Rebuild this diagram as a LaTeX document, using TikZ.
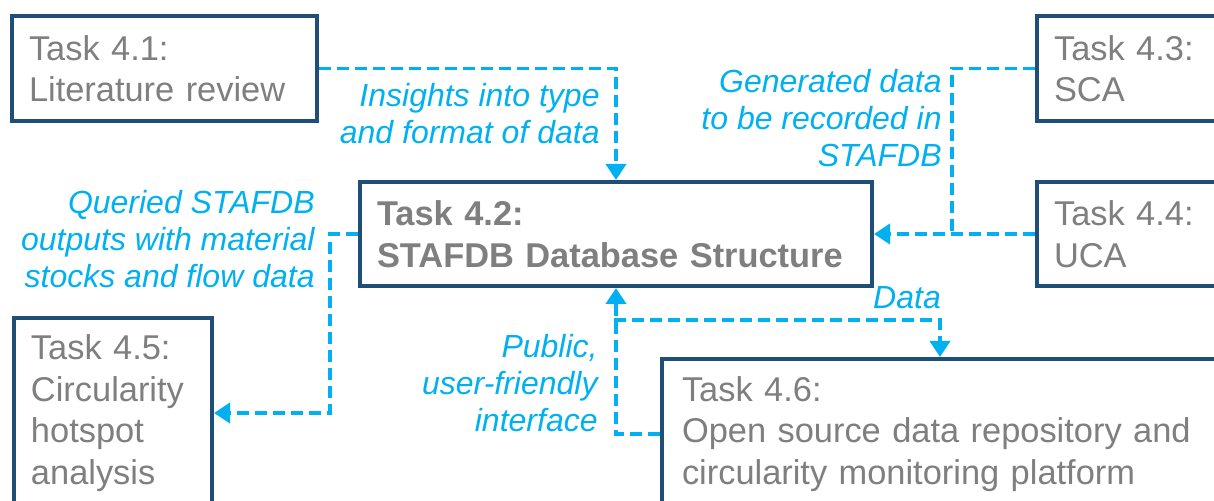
\documentclass[tikz,border=0pt]{standalone}
\usepackage{fontspec}
\setmainfont{Liberation Sans}
\usetikzlibrary{arrows.meta}
\definecolor{taskblue}{HTML}{1F4E79}
\definecolor{taskgray}{HTML}{7F7F7F}
\definecolor{flowcyan}{HTML}{00B0F0}

\begin{document}
\begin{tikzpicture}[x=0.5pt,y=-0.5pt,
    task/.style={draw=taskblue, line width=2pt, fill=white, anchor=north west, align=left,
      text=taskgray, inner xsep=8.5pt, inner ysep=0pt, font=\fontsize{17.2}{20.75}\selectfont},
    flow/.style={draw=flowcyan, line width=1.8pt, dash pattern=on 6pt off 3pt,
      -{Triangle[width=10pt,length=8pt]}},
    note/.style={text=flowcyan, inner sep=0pt, align=right, anchor=east,
      font=\fontsize{16}{18.5}\selectfont\itshape}]
      \useasboundingbox (0,0) rectangle (1214,501);
      \clip (0,0) rectangle (1214,501);
      %tasks
      \node[task, minimum width=152.5pt, minimum height=52.5pt, text width=135.5pt] (t41) at (10,14) {Task 4.1:\\Literature review};
      \node[task, minimum width=256pt, minimum height=52pt, text width=239pt] (t42) at (358,180) {\bfseries Task 4.2:\\\bfseries STAFDB Database Structure};
      \node[task, minimum width=120pt, minimum height=52.5pt, text width=103pt] (t43) at (1035,14) {Task 4.3:\\SCA};
      \node[task, minimum width=120pt, minimum height=52pt, text width=103pt] (t44) at (1035,180) {Task 4.4:\\UCA};
      \node[task, minimum width=99pt, minimum height=95pt, text width=82pt] (t45) at (12,316) {Task 4.5:\\Circularity\\hotspot\\analysis};
      \node[task, minimum width=300pt, minimum height=75pt, text width=280pt, inner xsep=10pt] (t46) at (660,357) {Task 4.6:\\Open source data repository and\\circularity monitoring platform};
      %points
      \coordinate (j1) at (952,232);
      \coordinate (j2) at (330,0);
      \coordinate (j3) at (614,320);
      \coordinate (j4) at (940,357);
      %flows
      \draw[flow] (t41.east) -| (t42.north);
      \draw[flow,-] (t43.west) -| (j1);
      \draw[flow] (t44.west) -- (t42.east);
      \draw[flow] (t42.west) -| (t45.east -| j2) -- (t45.east);
      \draw[flow] (t46.west) -| (t42.south);
      \draw[flow] (j3) -| (j4);
      %labels
      \node[note] (l1) at (600,114) {Insights into type\\and format of data};
      \node[note] (l2) at (942,118) {Generated data\\to be recorded in\\STAFDB};
      \node[note] (l3) at (315,239) {Queried STAFDB\\outputs with material\\stocks and flow data};
      \node[note] (l4) at (598,383) {Public,\\user-friendly\\interface};
      \node[note, anchor=center] (l5) at (907,298) {Data};
    \end{tikzpicture}
\end{document}
